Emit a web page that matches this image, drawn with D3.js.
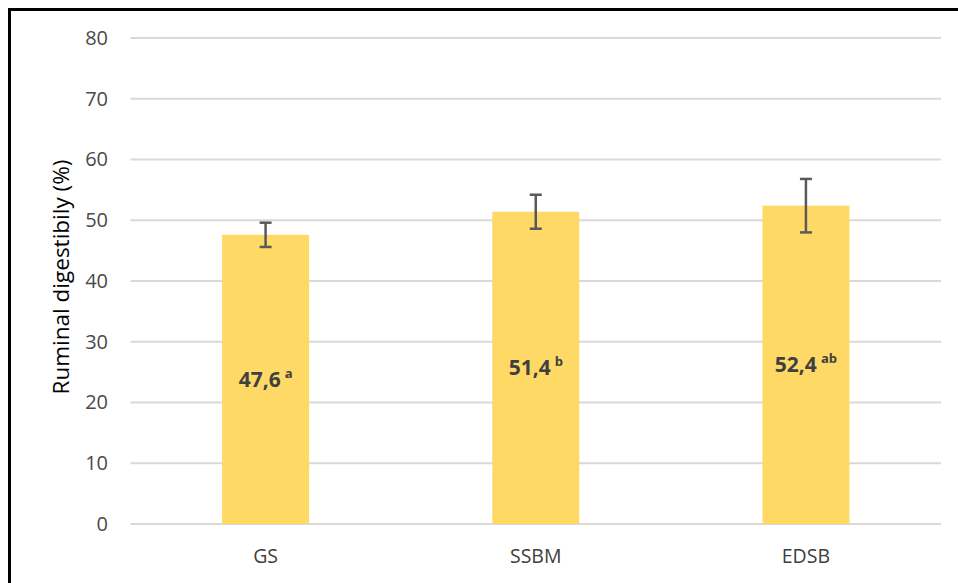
<!DOCTYPE html>
<html><head><meta charset="utf-8">
<script src="https://cdn.jsdelivr.net/npm/d3@7"></script>
<style>body{margin:0;background:#fff;}svg{display:block;}</style>
</head><body>
<svg id="c" width="958" height="583"></svg>
<script>
const categories = ["GS", "SSBM", "EDSB"];
const values = [47.6, 51.4, 52.4];
const errors = [2.0, 2.8, 4.4];
const letters = ["a", "b", "ab"];
const valueLabels = ["47,6", "51,4", "52,4"];
const yTicks = [0, 10, 20, 30, 40, 50, 60, 70, 80];
const yTitle = "Ruminal digestibily (%)";

(function () {
const svg = d3.select("#c");
const font = "'Open Sans', sans-serif";
const pLeft = 130.5, pRight = 941, pTop = 38, pBottom = 524;

svg.append("rect").attr("x", 9.5).attr("y", 9.5).attr("width", 1000).attr("height", 1000)
  .attr("fill", "none").attr("stroke", "#000").attr("stroke-width", 3);

const x = d3.scaleBand().domain(categories).range([pLeft, pRight]).padding(0);
const y = d3.scaleLinear().domain([0, 80]).range([pBottom, pTop]);
const barW = x.bandwidth() * 0.322;

// gridlines
svg.append("g").selectAll("line").data(yTicks).join("line")
  .attr("x1", pLeft).attr("x2", pRight)
  .attr("y1", d => y(d)).attr("y2", d => y(d))
  .attr("stroke", "#d9d9d9").attr("stroke-width", 2);

// y axis labels
const yAxis = d3.axisLeft(y).tickValues(yTicks).tickSize(0).tickPadding(0);
const gy = svg.append("g").attr("transform", `translate(108,0)`).call(yAxis);
gy.select(".domain").remove();
gy.selectAll("text").attr("font-family", font).attr("font-size", 20).attr("fill", "#4a4a4a");

// x axis labels
const xAxis = d3.axisBottom(x).tickSize(0).tickPadding(0);
const gx = svg.append("g").attr("transform", `translate(0,549)`).call(xAxis);
gx.select(".domain").remove();
gx.selectAll("text").attr("font-family", font).attr("font-size", 19.5).attr("fill", "#404040").attr("dy", "0.71em");

// bars
const data = categories.map((c, i) => ({c, v: values[i], e: errors[i], l: letters[i], t: valueLabels[i]}));
svg.append("g").selectAll("rect").data(data).join("rect")
  .attr("x", d => x(d.c) + x.bandwidth() / 2 - barW / 2)
  .attr("width", barW)
  .attr("y", d => y(d.v))
  .attr("height", d => y(0) - y(d.v))
  .attr("fill", "#ffd966");

// error bars
const eg = svg.append("g").attr("stroke", "#595959").attr("stroke-width", 2.5);
data.forEach(d => {
  const cx = x(d.c) + x.bandwidth() / 2;
  eg.append("line").attr("x1", cx).attr("x2", cx).attr("y1", y(d.v + d.e)).attr("y2", y(d.v - d.e));
  eg.append("line").attr("x1", cx - 6).attr("x2", cx + 6).attr("y1", y(d.v + d.e)).attr("y2", y(d.v + d.e));
  eg.append("line").attr("x1", cx - 6).attr("x2", cx + 6).attr("y1", y(d.v - d.e)).attr("y2", y(d.v - d.e));
});

// value labels
const lg = svg.append("g");
data.forEach(d => {
  const cx = x(d.c) + x.bandwidth() / 2;
  const cy = (y(d.v) + y(0)) / 2;
  const t = lg.append("text").attr("x", cx).attr("y", cy).attr("dy", "0.45em")
    .attr("text-anchor", "middle").attr("font-family", font).attr("fill", "#404040");
  t.append("tspan").attr("font-size", 21).attr("font-weight", "bold").text(d.t);
  t.append("tspan").attr("font-size", 13).attr("font-weight", "bold").attr("dx", 4).attr("dy", "-0.7em").text(d.l);
});

// y title
svg.append("text").attr("transform", `translate(69,277) rotate(-90)`)
  .attr("text-anchor", "middle").attr("font-family", font).attr("font-size", 22.5).attr("fill", "#000")
  .text(yTitle);
})();
</script>
</body></html>
